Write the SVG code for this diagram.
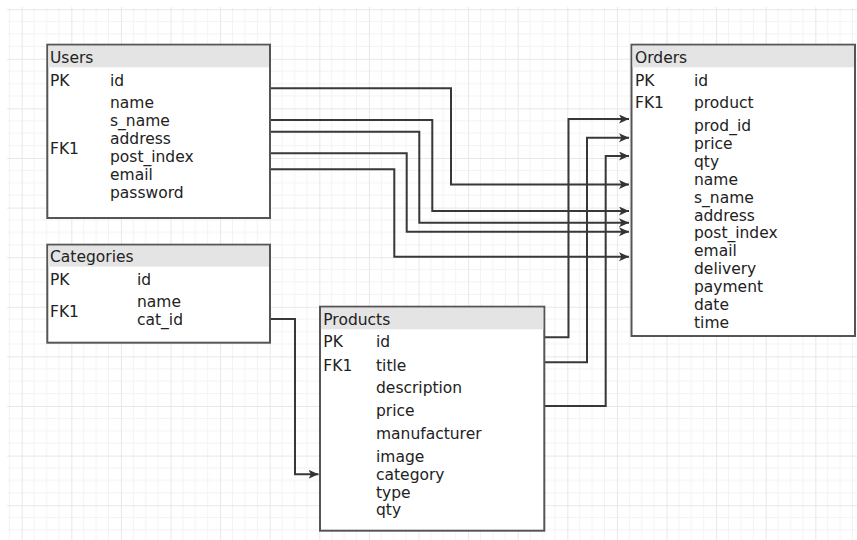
<svg xmlns="http://www.w3.org/2000/svg" width="857" height="540" viewBox="0 0 857 540">
  <defs>
    <pattern id="grid" x="21.7" y="9.2" width="49.6" height="49.6" patternUnits="userSpaceOnUse">
      <path d="M12.4,0V49.6M24.8,0V49.6M37.2,0V49.6M0,12.4H49.6M0,24.8H49.6M0,37.2H49.6" stroke="#f3f3f3" stroke-width="1" fill="none"/>
      <path d="M0.5,0V49.6M0,0.5H49.6" stroke="#e8e8e8" stroke-width="1" fill="none"/>
    </pattern>
    <marker id="arr" markerUnits="userSpaceOnUse" markerWidth="12" markerHeight="10" refX="10" refY="4.5" orient="auto">
      <path d="M0,0 L10,4.5 L0,9 L2.5,4.5 Z" fill="#333"/>
    </marker>
    <style>
      .box { fill: #ffffff; stroke: #555555; stroke-width: 2; }
      .hdr { fill: #e4e4e4; }
      text { font-family: "DejaVu Sans", Verdana, sans-serif; font-size: 15.5px; fill: #222222; }
      .con { fill: none; stroke: #383838; stroke-width: 2; marker-end: url(#arr); }
    </style>
  </defs>
  <rect x="0" y="0" width="857" height="540" fill="#ffffff"/>
  <rect x="7" y="7" width="850" height="533" fill="url(#grid)"/>

  <g id="connectors">
    <path class="con" d="M270,88.3 H451 V184.5 H629"/>
    <path class="con" d="M270,120 H432.3 V211 H629"/>
    <path class="con" d="M270,131.7 H419.3 V222.7 H629"/>
    <path class="con" d="M270,153.3 H406.7 V231.7 H629"/>
    <path class="con" d="M270,169.3 H394.3 V256.7 H629"/>
    <path class="con" d="M545,337.3 H568.5 V119 H629"/>
    <path class="con" d="M545,362.3 H587 V137.7 H629"/>
    <path class="con" d="M545,406 H605.7 V156 H629"/>
    <path class="con" d="M270,319 H295 V474.3 H318.5"/>
  </g>

  <g id="users">
    <rect class="box" x="47.3" y="44.7" width="222.7" height="173.3"/>
    <rect class="hdr" x="48.3" y="45.7" width="220.7" height="21.6"/>
    <text x="50" y="62.7">Users</text>
    <text x="50" y="85.7">PK</text>
    <text x="110" y="85.7">id</text>
    <text x="50" y="154">FK1</text>
    <text x="110" y="108.3">name</text>
    <text x="110" y="126.2">s_name</text>
    <text x="110" y="144.1">address</text>
    <text x="110" y="162">post_index</text>
    <text x="110" y="179.9">email</text>
    <text x="110" y="197.8">password</text>
  </g>

  <g id="categories">
    <rect class="box" x="47.3" y="244.7" width="222.7" height="98"/>
    <rect class="hdr" x="48.3" y="245.7" width="220.7" height="21"/>
    <text x="50" y="261.7">Categories</text>
    <text x="50" y="285">PK</text>
    <text x="137" y="285">id</text>
    <text x="50" y="317.3">FK1</text>
    <text x="137" y="306.7">name</text>
    <text x="137" y="325">cat_id</text>
  </g>

  <g id="products">
    <rect class="box" x="320" y="306.7" width="224.3" height="224"/>
    <rect class="hdr" x="321" y="307.7" width="222.3" height="21.6"/>
    <text x="323.3" y="325">Products</text>
    <text x="323.3" y="346.7">PK</text>
    <text x="376" y="346.7">id</text>
    <text x="323.3" y="370.7">FK1</text>
    <text x="376" y="370.7">title</text>
    <text x="376" y="393">description</text>
    <text x="376" y="415.5">price</text>
    <text x="376" y="438.5">manufacturer</text>
    <text x="376" y="461.5">image</text>
    <text x="376" y="480">category</text>
    <text x="376" y="497.5">type</text>
    <text x="376" y="515">qty</text>
  </g>

  <g id="orders">
    <rect class="box" x="631.5" y="44.7" width="223.5" height="291.3"/>
    <rect class="hdr" x="632.5" y="45.7" width="221.5" height="21.6"/>
    <text x="635" y="62.7">Orders</text>
    <text x="635" y="85.5">PK</text>
    <text x="694" y="85.5">id</text>
    <text x="635" y="108.3">FK1</text>
    <text x="694" y="108.3">product</text>
    <text x="694" y="131">prod_id</text>
    <text x="694" y="148.9">price</text>
    <text x="694" y="166.8">qty</text>
    <text x="694" y="184.7">name</text>
    <text x="694" y="202.6">s_name</text>
    <text x="694" y="220.5">address</text>
    <text x="694" y="238.4">post_index</text>
    <text x="694" y="256.3">email</text>
    <text x="694" y="274.2">delivery</text>
    <text x="694" y="292.1">payment</text>
    <text x="694" y="310">date</text>
    <text x="694" y="327.9">time</text>
  </g>
</svg>
